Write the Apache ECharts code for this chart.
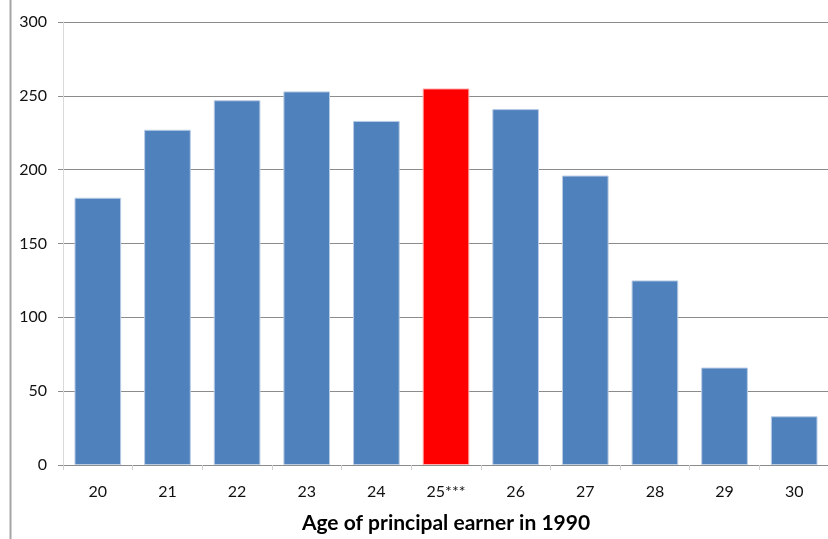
<!DOCTYPE html>
<html><head><meta charset="utf-8">
<script src="https://cdn.jsdelivr.net/npm/echarts@6/dist/echarts.min.js"></script>
<style>html,body{margin:0;padding:0;background:#fff}#c{width:828px;height:539px}</style>
</head><body><div id="c"></div>
<script>
const categories = ['20','21','22','23','24','25***','26','27','28','29','30'];
const values = [181, 227, 247, 253, 233, 255, 241, 196, 125, 66, 33];
const highlightIndex = 5;
const yTicks = [0, 50, 100, 150, 200, 250, 300];

const chart = echarts.init(document.getElementById('c'), null, {renderer:'canvas'});
chart.setOption({
  animation: false,
  backgroundColor: '#fff',
  grid: {left: 63, right: -1, top: 22, bottom: 74, containLabel: false, outerBoundsMode: 'none'},
  graphic: [{type:'line', shape:{x1:10.5,y1:0,x2:10.5,y2:539}, style:{stroke:'#a6a6a6', lineWidth:2}}],
  xAxis: {
    type: 'category', data: categories,
    name: 'Age of principal earner in 1990', nameLocation: 'middle', nameGap: 48,
    nameTextStyle: {fontFamily:'Lato', fontSize:21, fontWeight:'bold', color:'#000'},
    axisLine: {lineStyle:{color:'#8c8c8c', width:1}},
    axisTick: {show:true, length:5, lineStyle:{color:'#d0d0d0'}, alignWithLabel:false},
    axisLabel: {fontFamily:'Lato', fontSize:16, color:'#111', margin:19}
  },
  yAxis: {
    type: 'value', min: 0, max: 300, interval: 50,
    axisLine: {show:true, lineStyle:{color:'#d9d9d9'}},
    axisTick: {show:true, length:5, lineStyle:{color:'#8c8c8c'}},
    splitLine: {lineStyle:{color:'#8c8c8c', width:1}},
    axisLabel: {fontFamily:'Lato', fontSize:16, color:'#111', margin:16,
      formatter: v => yTicks.includes(v) ? String(v) : ''}
  },
  series: [{
    type: 'bar', barCategoryGap: '33%',
    data: values.map((v,i) => ({value:v, itemStyle:{color: i===highlightIndex ? '#ff0000' : '#4f81bd',
      borderColor: i===highlightIndex ? '#ffb0b0' : '#b8cce4', borderWidth:1}}))
  }]
});
</script></body></html>
